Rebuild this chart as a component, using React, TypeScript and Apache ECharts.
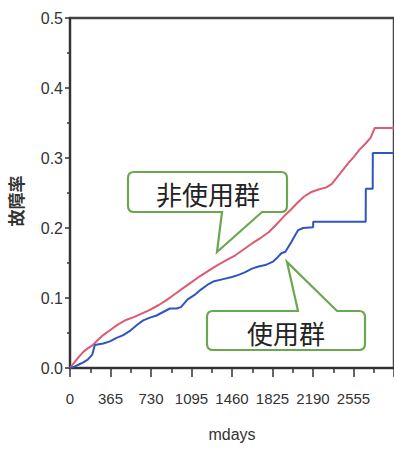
import React, { useEffect, useRef } from "react";
import * as echarts from "echarts";

const xTickInterval = 365;
const xMax = 2920;
const yMax = 0.5;

const nonUseDays = [0,40,80,120,160,200,250,300,360,430,510,580,650,720,800,870,940,1010,1090,1170,1250,1330,1410,1490,1570,1650,1720,1790,1860,1930,1990,2050,2110,2170,2240,2310,2360,2410,2460,2510,2560,2610,2660,2710,2746,2920];
const nonUseRate = [0,0.008,0.016,0.023,0.028,0.032,0.04,0.047,0.054,0.062,0.069,0.073,0.078,0.083,0.09,0.097,0.105,0.113,0.122,0.131,0.139,0.147,0.154,0.161,0.17,0.179,0.186,0.194,0.205,0.217,0.226,0.236,0.245,0.251,0.255,0.258,0.263,0.273,0.283,0.293,0.302,0.312,0.32,0.329,0.343,0.343];

const useDays = [0,40,80,120,160,200,224,260,300,360,420,480,540,600,660,720,780,840,900,960,1000,1060,1120,1180,1240,1300,1380,1460,1520,1580,1640,1700,1760,1830,1870,1905,1941,1995,2030,2057,2100,2191,2192,2665,2666,2728,2729,2920];
const useRate = [0,0.002,0.005,0.008,0.012,0.019,0.033,0.034,0.035,0.038,0.043,0.047,0.053,0.061,0.068,0.072,0.075,0.08,0.085,0.085,0.087,0.098,0.104,0.112,0.119,0.124,0.127,0.13,0.133,0.137,0.142,0.145,0.147,0.152,0.158,0.164,0.166,0.18,0.19,0.197,0.2,0.201,0.209,0.209,0.256,0.256,0.307,0.307];

const nonUseLabel = "非使用群";
const useLabel = "使用群";
const yAxisTitle = "故障率";
const xAxisTitle = "mdays";

const callout1 = "M134,172 H281 Q287,172 287,178 V206 Q287,212 281,212 H262 L217,252 L222,212 H134 Q128,212 128,206 V178 Q128,172 134,172 Z";
const callout2 = "M213,311 H298 L287,262 L337,311 H359 Q365,311 365,317 V344 Q365,350 359,350 H213 Q207,350 207,344 V317 Q207,311 213,311 Z";

let registered = false;
function registerShapes() {
  if (registered) return;
  echarts.graphic.registerShape("callout1", echarts.graphic.extendPath(callout1, {}));
  echarts.graphic.registerShape("callout2", echarts.graphic.extendPath(callout2, {}));
  registered = true;
}

const sans = '"Liberation Sans", Arial, sans-serif';
const cjk = '"Noto Sans CJK JP", "Noto Sans CJK SC", sans-serif';

export default function App() {
  const ref = useRef<HTMLDivElement>(null);
  useEffect(() => {
    if (!ref.current) return;
    registerShapes();
    const chart = echarts.init(ref.current, null, { renderer: "svg" });
    const zip = (a: number[], b: number[]) => a.map((d, i) => [d, b[i]]);
    chart.setOption({
      animation: false,
      backgroundColor: "#ffffff",
      grid: {
        left: 70,
        top: 18,
        right: -3,
        bottom: 84,
        show: true,
        borderColor: "#444",
        borderWidth: 2.5,
        backgroundColor: "transparent",
      },
      xAxis: {
        type: "value",
        min: 0,
        max: xMax,
        interval: xTickInterval,
        name: xAxisTitle,
        nameLocation: "middle",
        nameGap: 58,
        nameTextStyle: { fontFamily: sans, fontSize: 16, color: "#333" },
        axisLine: { lineStyle: { color: "#333", width: 2 } },
        axisTick: { show: true, inside: false, length: 9, lineStyle: { color: "#333", width: 1.5 } },
        minorTick: { show: true, splitNumber: 2, length: 5, lineStyle: { color: "#333", width: 1.5 } },
        splitLine: { show: false },
        axisLabel: {
          showMaxLabel: false,
          margin: 23,
          fontFamily: sans,
          fontSize: 15,
          color: "#333",
          formatter: (v: number) => String(v),
        },
      },
      yAxis: {
        type: "value",
        min: 0,
        max: yMax,
        interval: 0.1,
        axisLine: { show: true, lineStyle: { color: "#333", width: 2 } },
        axisTick: { show: true, inside: false, length: 5, lineStyle: { color: "#333", width: 1.5 } },
        minorTick: { show: true, splitNumber: 2, length: 3, lineStyle: { color: "#333", width: 1.5 } },
        splitLine: { show: false },
        axisLabel: {
          margin: 7,
          fontFamily: sans,
          fontSize: 16,
          color: "#333",
          formatter: (v: number) => v.toFixed(1),
        },
      },
      series: [
        {
          name: nonUseLabel,
          type: "line",
          data: zip(nonUseDays, nonUseRate),
          showSymbol: false,
          lineStyle: { color: "#dd5a72", width: 2 },
          z: 2,
        },
        {
          name: useLabel,
          type: "line",
          data: zip(useDays, useRate),
          showSymbol: false,
          lineStyle: { color: "#2f55c0", width: 2 },
          z: 2,
        },
      ],
      graphic: [
        {
          type: "text",
          x: 15,
          y: 201,
          rotation: Math.PI / 2,
          style: {
            text: yAxisTitle,
            fontFamily: cjk,
            fontWeight: "bold",
            fontSize: 17,
            fill: "#333",
            align: "center",
            verticalAlign: "middle",
          },
        },
        {
          type: "callout1",
          x: 0,
          y: 0,
          z: 10,
          style: { fill: "#ffffff", stroke: "#6aa84f", lineWidth: 2.2 },
        },
        {
          type: "callout2",
          x: 0,
          y: 0,
          z: 10,
          style: { fill: "#ffffff", stroke: "#6aa84f", lineWidth: 2.2 },
        },
        {
          type: "text",
          x: 208,
          y: 193,
          z: 11,
          style: {
            text: nonUseLabel,
            fontFamily: cjk,
            fontSize: 26,
            fill: "#222",
            align: "center",
            verticalAlign: "middle",
          },
        },
        {
          type: "text",
          x: 286,
          y: 332,
          z: 11,
          style: {
            text: useLabel,
            fontFamily: cjk,
            fontSize: 26,
            fill: "#222",
            align: "center",
            verticalAlign: "middle",
          },
        },
      ],
    });
    return () => chart.dispose();
  }, []);
  return (
    <div
      ref={ref}
      style={{ position: "fixed", left: 0, top: 0, width: 394, height: 452, background: "#fff" }}
    />
  );
}
